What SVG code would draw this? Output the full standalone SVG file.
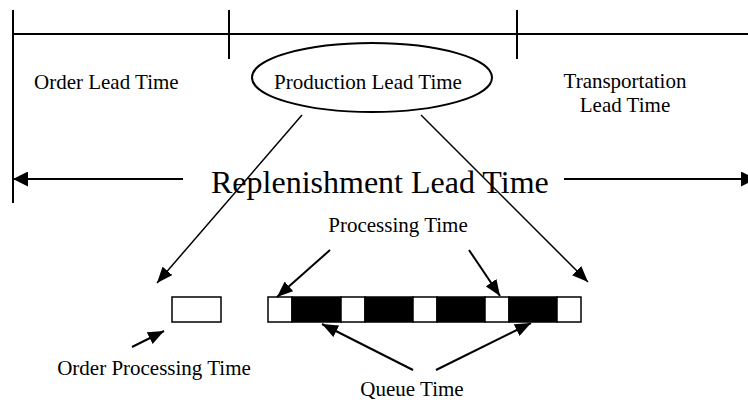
<svg xmlns="http://www.w3.org/2000/svg" width="748" height="402" viewBox="0 0 748 402">
<style>
  text { font-family: "Liberation Serif", "Times New Roman", serif; fill: #000; }
  .lbl { font-size: 21px; }
  .big { font-size: 32px; }
  .ln { stroke: #000; fill: none; }
  .w { fill: #fff; stroke: #000; stroke-width: 1.5; }
  .b { fill: #000; stroke: #000; stroke-width: 1.5; }
</style>
<defs>
  <marker id="ah" viewBox="0 0 16 13" refX="16" refY="6.5" markerWidth="16" markerHeight="13" markerUnits="userSpaceOnUse" orient="auto">
    <path d="M0,0 L16,6.5 L0,13 z" fill="#000"/>
  </marker>
  <marker id="ahBig" viewBox="0 0 15 15" refX="15" refY="7.5" markerWidth="15" markerHeight="15" markerUnits="userSpaceOnUse" orient="auto">
    <path d="M0,0 L15,7.5 L0,15 z" fill="#000"/>
  </marker>
</defs>

<g id="timeline">
  <line class="ln" x1="12" y1="34" x2="748" y2="34" stroke-width="2"/>
  <line class="ln" x1="13" y1="10" x2="13" y2="203" stroke-width="2"/>
  <line class="ln" x1="229" y1="10" x2="229" y2="59" stroke-width="2"/>
  <line class="ln" x1="517" y1="10" x2="517" y2="59" stroke-width="2"/>
</g>

<g id="order-lead-time">
  <text class="lbl" x="34" y="89">Order Lead Time</text>
</g>

<g id="production-lead-time">
  <ellipse cx="372" cy="77.5" rx="120" ry="34.5" fill="#fff" stroke="#000" stroke-width="2"/>
  <text class="lbl" x="368" y="89" text-anchor="middle">Production Lead Time</text>
</g>

<g id="transportation-lead-time">
  <text class="lbl" x="625" y="88" text-anchor="middle">Transportation</text>
  <text class="lbl" x="625" y="112" text-anchor="middle">Lead Time</text>
</g>

<g id="replenishment-lead-time">
  <text class="big" x="211" y="193">Replenishment Lead Time</text>
</g>

<g id="processing-time-label">
  <text class="lbl" x="398" y="232" text-anchor="middle">Processing Time</text>
</g>

<g id="order-processing-box">
  <rect class="w" x="172" y="297" width="49" height="25"/>
</g>

<g id="production-bar">
  <rect class="w" x="268" y="297" width="24" height="25"/>
  <rect class="b" x="292" y="297" width="49" height="25"/>
  <rect class="w" x="341" y="297" width="24" height="25"/>
  <rect class="b" x="365" y="297" width="48" height="25"/>
  <rect class="w" x="413" y="297" width="24" height="25"/>
  <rect class="b" x="437" y="297" width="48" height="25"/>
  <rect class="w" x="485" y="297" width="24" height="25"/>
  <rect class="b" x="509" y="297" width="48" height="25"/>
  <rect class="w" x="557" y="297" width="24" height="25"/>
</g>

<g id="order-processing-time-label">
  <text class="lbl" x="154" y="375" text-anchor="middle">Order Processing Time</text>
</g>

<g id="queue-time-label">
  <text class="lbl" x="412" y="396" text-anchor="middle">Queue Time</text>
</g>

<g id="connectors">
  <line class="ln" x1="183" y1="179" x2="13" y2="179" stroke-width="2" marker-end="url(#ahBig)"/>
  <line class="ln" x1="564" y1="179" x2="756" y2="179" stroke-width="2" marker-end="url(#ahBig)"/>
  <line class="ln" x1="302" y1="115" x2="157" y2="283" stroke-width="1.5" marker-end="url(#ah)"/>
  <line class="ln" x1="421" y1="115" x2="588" y2="282" stroke-width="1.5" marker-end="url(#ah)"/>
  <line class="ln" x1="330" y1="250" x2="277" y2="297" stroke-width="2" marker-end="url(#ah)"/>
  <line class="ln" x1="469" y1="250" x2="500" y2="296" stroke-width="2" marker-end="url(#ah)"/>
  <line class="ln" x1="132" y1="347" x2="164" y2="331" stroke-width="2" marker-end="url(#ah)"/>
  <line class="ln" x1="413" y1="370" x2="322" y2="324" stroke-width="2" marker-end="url(#ah)"/>
  <line class="ln" x1="436" y1="370" x2="531" y2="323" stroke-width="2" marker-end="url(#ah)"/>
</g>
</svg>
